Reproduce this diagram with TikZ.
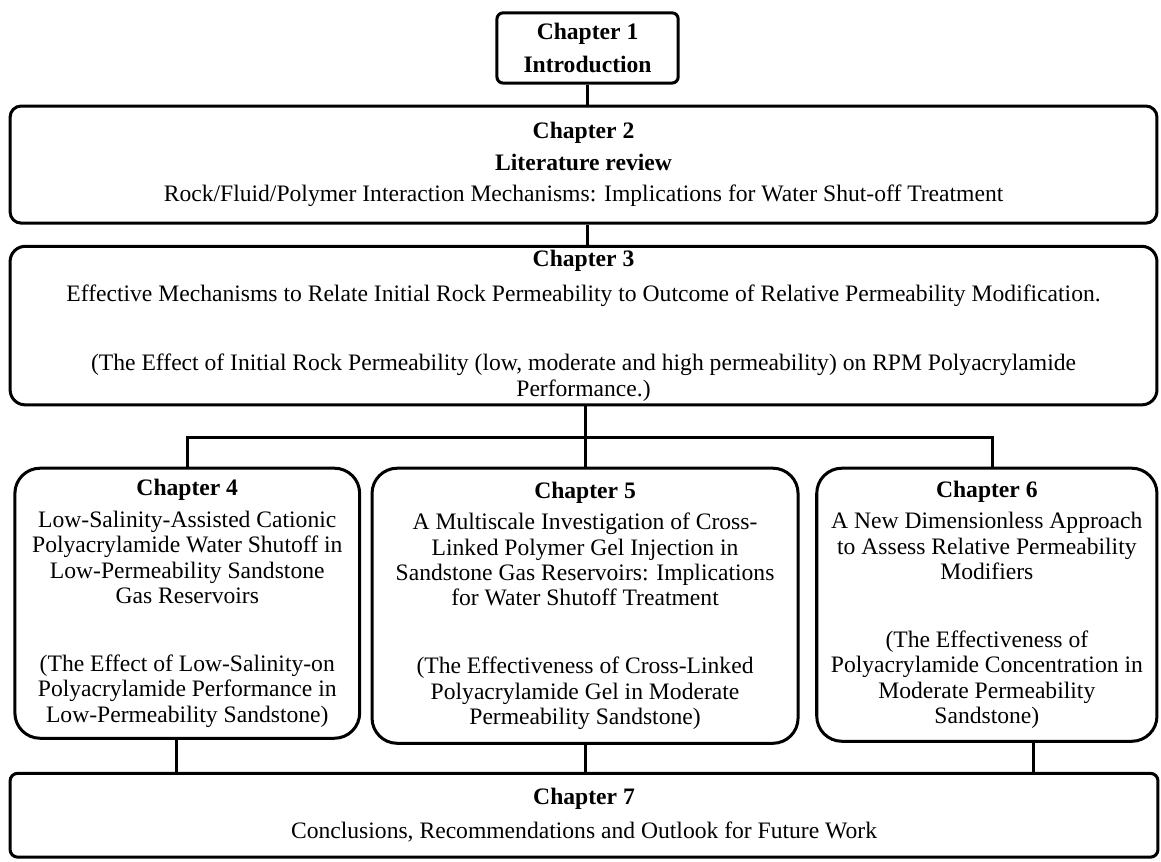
\documentclass[tikz,border=0pt]{standalone}
\usepackage{fontspec}
\setmainfont{Liberation Serif}
\usetikzlibrary{positioning,calc}

\begin{document}
\begin{tikzpicture}[
  font=\fontsize{13.3}{14.3}\selectfont,
  chap/.style={rectangle, draw=black, line width=1.7pt, align=center,
               inner sep=2pt},
  smallbox/.style={chap, rounded corners=0.12cm, minimum width=3.59cm,
                   minimum height=1.39cm},
  widebox/.style={chap, rounded corners=0.22cm, minimum width=22.72cm},
  colbox/.style={chap, rounded corners=0.5cm},
  link/.style={line width=1.7pt, black},
]
\useasboundingbox (0,0) rectangle (23.0,-17.057);

% ================= introduction and literature review
\node[smallbox] (ch1) at (11.64,-0.95)
  {\textbf{Chapter 1}\\[4.3pt]\textbf{Introduction}};
\node[widebox, minimum height=2.32cm] (ch2) at (11.56,-3.26)
  {\textbf{Chapter 2}\\[3.5pt]
   \textbf{Literature review}\\[3.5pt]
   Rock/Fluid/Polymer Interaction Mechanisms: Implications for Water Shut-off Treatment};

% ================= chapter 3: the common question
\node[widebox, rounded corners=0.3cm, minimum height=3.03cm] (ch3) at (11.56,-6.45)
  {\textbf{Chapter 3}\\[5.4pt]
   Effective Mechanisms to Relate Initial Rock Permeability to Outcome of Relative Permeability Modification.\\[25pt]
   (The Effect of Initial Rock Permeability (low, moderate and high permeability) on RPM Polyacrylamide\\
   Performance.)};

% ================= the three studies
\node[colbox, minimum width=6.83cm, minimum height=5.35cm] (ch4) at (3.71,-11.95)
  {\textbf{Chapter 4}\\[3.5pt]
   Low-Salinity-Assisted Cationic\\
   Polyacrylamide Water Shutoff in\\
   Low-Permeability Sandstone\\
   Gas Reservoirs\\[24pt]
   (The Effect of Low-Salinity-on\\
   Polyacrylamide Performance in\\
   Low-Permeability Sandstone)};
\node[colbox, minimum width=8.44cm, minimum height=5.45cm] (ch5) at (11.59,-12.0)
  {\textbf{Chapter 5}\\[3.5pt]
   A Multiscale Investigation of Cross-\\
   Linked Polymer Gel Injection in\\
   Sandstone Gas Reservoirs: Implications\\
   for Water Shutoff Treatment\\[24pt]
   (The Effectiveness of Cross-Linked\\
   Polyacrylamide Gel in Moderate\\
   Permeability Sandstone)};
\node[colbox, minimum width=6.74cm, minimum height=5.41cm] (ch6) at (19.55,-11.98)
  {\textbf{Chapter 6}\\[3.5pt]
   A New Dimensionless Approach\\
   to Assess Relative Permeability\\
   Modifiers\\[24pt]
   (The Effectiveness of\\
   Polyacrylamide Concentration in\\
   Moderate Permeability\\
   Sandstone)};

% ================= conclusions
\node[widebox, rounded corners=0.15cm, minimum width=22.74cm, minimum height=1.66cm] (ch7) at (11.57,-16.15)
  {\textbf{Chapter 7}\\[4.9pt]
   Conclusions, Recommendations and Outlook for Future Work};

% ================= connectors
\coordinate (bus) at (0,-8.66);
\coordinate (c6top) at ([xshift=0.12cm]ch6.north);
\coordinate (c4bot) at ([xshift=-0.21cm]ch4.south);
\coordinate (c6bot) at ([xshift=0.93cm]ch6.south);

\draw[link] (ch1.south) -- (ch1.south |- ch2.north);
\draw[link] (ch1.south |- ch2.south) -- (ch1.south |- ch3.north);
\draw[link] (ch5.north |- ch3.south) -- (ch5.north);
\draw[link] (ch4.north) -- (ch4.north |- bus) -- (c6top |- bus) -- (c6top);
\draw[link] (c4bot) -- (c4bot |- ch7.north);
\draw[link] (ch5.south) -- (ch5.south |- ch7.north);
\draw[link] (c6bot) -- (c6bot |- ch7.north);
\end{tikzpicture}
\end{document}
